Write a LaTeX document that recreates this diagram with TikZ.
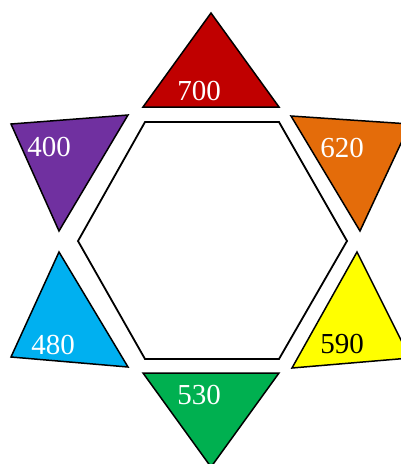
\documentclass[tikz,border=0pt]{standalone}
\usepackage{xcolor}
\usepackage{tikz}
\usepackage{fontspec}
\setmainfont{Liberation Serif}
\definecolor{wred}{RGB}{192,0,0}
\definecolor{wpurple}{RGB}{112,48,160}
\definecolor{worange}{RGB}{228,108,10}
\definecolor{wblue}{RGB}{0,176,240}
\definecolor{wyellow}{RGB}{255,255,0}
\definecolor{wgreen}{RGB}{0,176,80}

\tikzset{
  wedge/.style={draw=black, line width=1.5pt, line join=miter},
  hexa/.style={draw=black, fill=white, line width=1.8pt, line join=miter},
  wlabel/.style={font=\fontsize{29}{29}\selectfont, text=white, inner sep=0pt}
}

\begin{document}
\begin{tikzpicture}[x=1pt, y=-1pt]
  \useasboundingbox (0,0) rectangle (401,464);

  % center hexagon
  \draw[hexa] (78,241) -- (145,122) -- (279,122) -- (347,241)
    -- (279,359) -- (145,359) -- cycle;

  % colour wedges
  \fill[wred, wedge] (211,13) -- (279,107) -- (143,107) -- cycle;
  \fill[wpurple, wedge] (11,124) -- (128,115) -- (59,231) -- cycle;
  \fill[worange, wedge] (291,116) -- (410,124) -- (360,231) -- cycle;
  \fill[wblue, wedge] (59,252) -- (128,367) -- (11,357) -- cycle;
  \fill[wyellow, wedge] (357,252) -- (410,358) -- (292,368) -- cycle;
  \fill[wgreen, wedge] (143,373) -- (279,373) -- (211,467) -- cycle;

  % wavelengths
  \node[wlabel] (n700) at (199,91) {700};
  \node[wlabel] (n400) at (49,147) {400};
  \node[wlabel] (n620) at (342,148) {620};
  \node[wlabel] (n480) at (53,345) {480};
  \node[wlabel, text=black] (n590) at (342,344) {590};
  \node[wlabel] (n530) at (199,395) {530};
\end{tikzpicture}
\end{document}
